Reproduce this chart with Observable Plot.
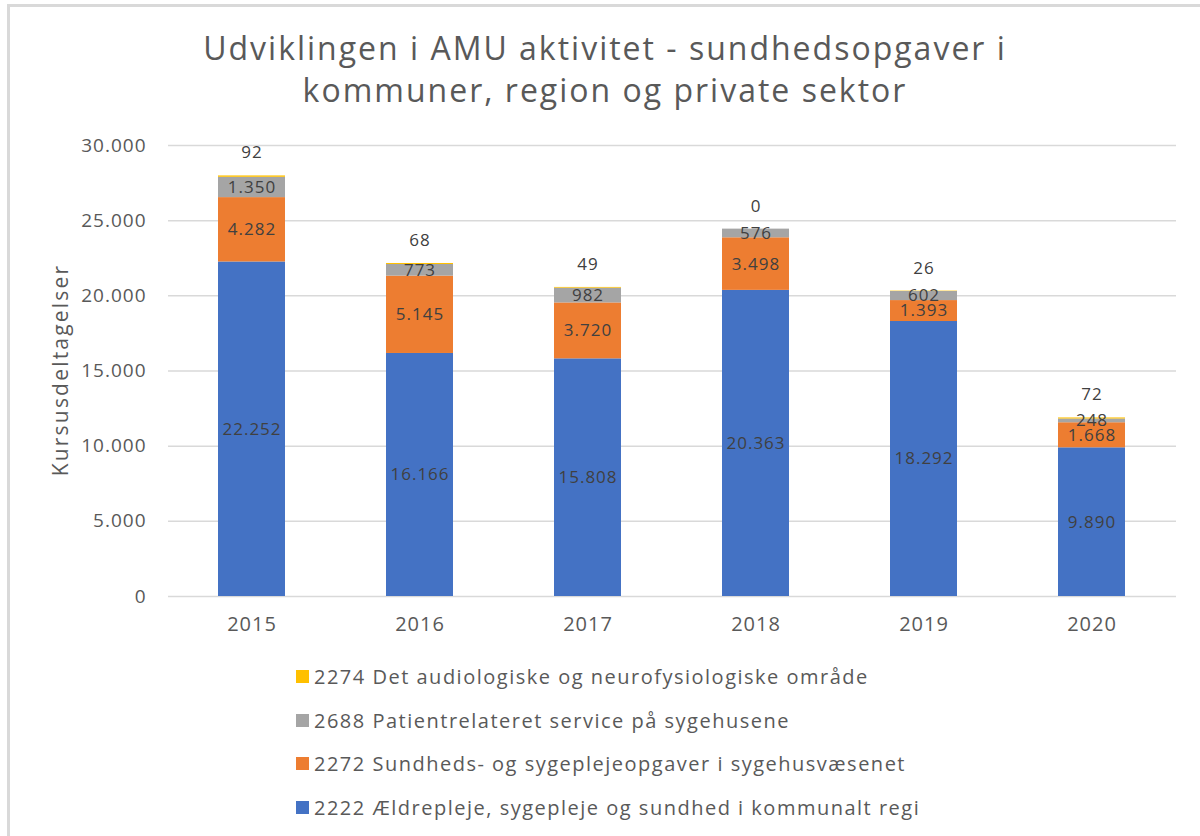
<!DOCTYPE html>
<html>
<head>
<meta charset="utf-8">
<script src="https://cdn.jsdelivr.net/npm/d3@7"></script>
<script src="https://cdn.jsdelivr.net/npm/@observablehq/plot@0.6"></script>
<style>
  html, body { margin: 0; padding: 0; background: #fff; }
  body { width: 1200px; height: 836px; position: relative; overflow: hidden; font-family: "Open Sans", sans-serif; }
  #frame { position: absolute; left: 7px; top: 4px; width: 1200px; height: 840px; border-left: 3px solid #d9d9d9; border-top: 3px solid #d9d9d9; box-sizing: border-box; }
  #title { position: absolute; left: 0; top: 27px; width: 1210px; text-align: center; color: #595959; font-size: 32px; letter-spacing: 2px; line-height: 42px; }
  #chart { position: absolute; left: 0; top: 120px; }
  #ylabel { position: absolute; left: 60px; top: 370px; transform: translate(-50%, -50%) rotate(-90deg); white-space: nowrap; color: #595959; font-size: 21px; letter-spacing: 2.2px; }
  #legend { position: absolute; left: 296px; top: 655px; color: #595959; font-size: 20px; letter-spacing: 1.5px; }
  .row { height: 43.5px; display: flex; align-items: center; }
  .sw { width: 13px; height: 13px; margin-right: 5px; flex: none; }
</style>
</head>
<body>
<div id="frame"></div>
<div id="title">Udviklingen i AMU aktivitet - sundhedsopgaver i<br>kommuner, region og private sektor</div>
<div id="chart"></div>
<div id="ylabel">Kursusdeltagelser</div>
<div id="legend"></div>
<script>
const years = ["2015", "2016", "2017", "2018", "2019", "2020"];
const seriesNames = [
  "2222 Ældrepleje, sygepleje og sundhed i kommunalt regi",
  "2272 Sundheds- og sygeplejeopgaver i sygehusvæsenet",
  "2688 Patientrelateret service på sygehusene",
  "2274 Det audiologiske og neurofysiologiske område"
];
const seriesColors = ["#4472C4", "#ED7D31", "#A5A5A5", "#FFC000"];
const v2222 = [22252, 16166, 15808, 20363, 18292, 9890];
const v2272 = [4282, 5145, 3720, 3498, 1393, 1668];
const v2688 = [1350, 773, 982, 576, 602, 248];
const v2274 = [92, 68, 49, 0, 26, 72];
const yTicks = [0, 5000, 10000, 15000, 20000, 25000, 30000];

const seriesValues = [v2222, v2272, v2688, v2274];
const data = [];
seriesNames.forEach((s, si) => {
  years.forEach((yr, i) => data.push({year: yr, series: s, value: seriesValues[si][i]}));
});
const totals = years.map((yr, i) => ({
  year: yr,
  total: seriesValues.reduce((a, arr) => a + arr[i], 0),
  value: v2274[i]
}));

const locale = d3.formatLocale({decimal: ",", thousands: ".", grouping: [3], currency: ["", " kr"]});
const fmt = locale.format(",d");

const plot = Plot.plot({
  width: 1200,
  height: 526,
  marginTop: 25,
  marginBottom: 50,
  marginLeft: 168,
  marginRight: 24,
  style: {fontFamily: "Open Sans, sans-serif", background: "transparent", letterSpacing: "1px"},
  x: {domain: years, paddingInner: 0.6, paddingOuter: 0.3, label: null},
  y: {domain: [0, 30000], label: null},
  color: {domain: seriesNames, range: seriesColors},
  marks: [
    Plot.gridY(yTicks, {stroke: "#d9d9d9", strokeOpacity: 1, strokeWidth: 1.5}),
    Plot.barY(data, {x: "year", y: "value", fill: "series"}),
    Plot.axisX({tickSize: 0, tickPadding: 20, fontSize: 20, fill: "#595959", label: null}),
    Plot.axisY({ticks: yTicks, tickSize: 0, tickPadding: 22, fontSize: 19, fill: "#595959",
      tickFormat: d => fmt(d), label: null}),
    Plot.text(data, Plot.stackY({x: "year", y: "value",
      text: d => d.series === seriesNames[3] ? null : fmt(d.value),
      fill: "#404040", fontSize: 17})),
    Plot.text(totals, {x: "year", y: "total", text: d => fmt(d.value), dy: -23, fill: "#404040", fontSize: 17})
  ]
});
document.getElementById("chart").appendChild(plot);

const legend = document.getElementById("legend");
[3, 2, 1, 0].forEach(i => {
  const row = document.createElement("div");
  row.className = "row";
  const sw = document.createElement("span");
  sw.className = "sw";
  sw.style.background = seriesColors[i];
  const t = document.createElement("span");
  t.textContent = seriesNames[i];
  row.appendChild(sw);
  row.appendChild(t);
  legend.appendChild(row);
});
</script>
</body>
</html>
